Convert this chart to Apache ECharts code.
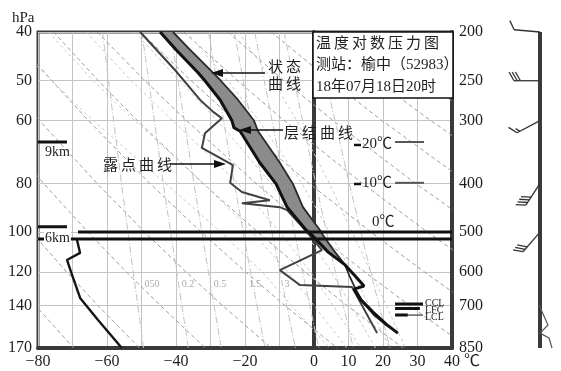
<!DOCTYPE html>
<html>
<head>
<meta charset="utf-8">
<script src="https://cdn.jsdelivr.net/npm/echarts@6/dist/echarts.min.js"></script>
<style>
  html, body { margin: 0; padding: 0; background: #fff; }
  #chart { width: 561px; height: 371px; }
</style>
</head>
<body>
<div id="chart"></div>
<script>
// ---- axes ----
const pressureTicks = [200, 250, 300, 400, 500, 600, 700, 850];   // hPa, right axis
const tempTicks = [-80, -60, -40, -20, 0, 10, 20, 30, 40];         // degC, bottom axis

// ---- sounding curves (T in degC, p in hPa) ----
// stratification curve (层结曲线)
const stratT = [-44.6, -40.0, -33.6, -31.6, -27.2, -23.8, -23.2, -21.4, -15.7, -11.0, -7.8, -2.3, -0.6, 4.1, 9.0, 12.2, 14.5, 11.6, 13.6, 17.1, 20.9, 24.3];
const stratP = [200, 217, 241, 250, 273, 300, 310, 315, 364, 401, 446, 495, 507, 548, 581, 614, 640, 649, 682, 721, 762, 794];
// state curve (状态曲线)
const stateT = [-40.9, -35.9, -29.3, -27.0, -22.0, -17.4, -16.2, -9.9, -6.1, -3.2, 1.7, 2.6, 6.1, 9.0, 10.4, 12.2, 14.2, 17.4, 20.9, 24.3];
const stateP = [200, 217, 241, 250, 273, 300, 315, 364, 401, 446, 495, 507, 548, 581, 614, 652, 689, 731, 765, 794];
// dew point curve (露点曲线)
const dewT = [-50.4, -40.3, -33.0, -29.3, -26.7, -31.6, -32.5, -23.5, -24.3, -20.9, -12.8, -20.9, -9.9, -7.8, -2.0, 2.3, -9.9, -4.1, 11.0, 18.3];
const dewP = [200, 238, 273, 288, 297, 318, 340, 368, 399, 416, 432, 438, 446, 452, 500, 543, 595, 637, 643, 794];
// curve in the lower left
const lowT = [-68.7, -67.8, -71.6, -70.1, -67.8, -62.6, -55.7];
const lowP = [518, 550, 568, 609, 676, 748, 850];
// shaded band between the two temperature curves reaches down to this level
const bandBottomP = 581;

// ---- background lines, T (degC) at the levels below ----
const bgLevels = [200, 250, 300, 400, 500, 600, 700, 850];
const dryAdiabats = [
  [null, null, null, null, null, -89.0, -80.7, -69.7],
  [null, null, null, null, -81.9, -71.7, -62.6, -50.6],
  [null, null, -93.7, -78.4, -65.5, -54.4, -44.5, -31.5],
  [null, -89.4, -79.6, -62.9, -49.1, -37.1, -26.5, -12.4],
  [-88.1, -76.0, -65.4, -47.6, -32.7, -19.8, -8.4, 6.7],
  [-75.5, -62.5, -51.2, -32.2, -16.3, -2.6, 9.6, 25.8],
  [-62.9, -49.0, -37.0, -16.8, 0.1, 14.7, 27.7, 44.9],
  [-50.3, -35.6, -22.9, -1.4, 16.5, 32.0, 45.7, null],
  [-37.7, -22.1, -8.7, 14.0, 32.9, 49.3, null, null],
  [-25.0, -8.7, 5.5, 29.4, 49.3, null, null, null],
  [-12.4, 4.8, 19.7, 44.8, null, null, null, null],
  [0.2, 18.2, 33.8, 60.0, null, null, null, null],
  [12.8, 31.7, 48.0, null, null, null, null, null],
  [25.5, 45.1, null, null, null, null, null, null]
];
const moistAdiabats = [
  [-90, -76, -64, -43, -27, -15, -6.5, 4.5],
  [-77, -64, -52, -32, -18, -7.5, 0, 9.5],
  [-66, -53, -41, -22, -10, -1, 5.5, 13.5],
  [-52, -39, -28, -12.5, -2.5, 5, 10.8, 17.8],
  [-37, -25, -16, -3.5, 4.5, 11, 16, 22],
  [-22, -12, -5, 4.5, 11, 16.5, 21, 26.5]
];
const mixLevels = [200, 400, 600, 850];
const mixingLines = [
  [-61.3, -55.8, -52.4, -49.4],
  [-49.9, -43.7, -39.8, -36.4],
  [-41.6, -34.8, -30.6, -26.9],
  [-30.6, -23.1, -18.4, -14.2],
  [-23.1, -15.0, -9.9, -5.4],
  [-17.2, -8.6, -3.3, 1.4],
  [-8.7, 0.5, 6.2, 11.4],
  [0.3, 10.2, 16.4, 22.0]
];
const mixingLabels = ['050', '0.2', '0.5', '1.5', '3'];

// ---- marked levels: [p hPa, T from, T to] ----
const markKm9 = [331, -80, -71.6];
const markKm6 = [488, -80, -71.6];
const markZero = [500, -68.4, 40];
const markLower = [516, -80, 40];
const markMinus20 = [331, 23.5, 31.9];
const markMinus10 = [399, 23.5, 31.9];
const markCCL = [695, 23.5, 31.6];
const markLFC = [709, 23.5, 30.7];
const markLCL = [731, 23.5, 27.2];
const markLCLTail = [731, 27.2, 31.6];

// ---- wind barbs: direction (deg, from), speed (m/s) ----
const windP = [200, 250, 300, 400, 500];
const windDir = [275, 270, 242, 213, 221];
const windSpeed = [4, 12, 6, 16, 12];
const lowTraceX = [-0.2, 1.6, 0, 1.8, 2.4];
const lowTraceP = [698, 765, 794, 812, 850];

// ---------------------------------------------------------------
const lp = p => Math.log10(p);
const toPts = (ts, ps) => ts.map((t, i) => [t, lp(ps[i])]);
const tableLine = (row, levels) => row.map((t, i) => t === null ? null : [t, lp(levels[i])]).filter(d => d);
const levelLine = m => [[m[1], lp(m[0])], [m[2], lp(m[0])]];

const serif = "'Liberation Serif', 'DejaVu Serif', 'Noto Sans CJK SC', serif";
const cjk = "'Liberation Serif', 'Noto Sans CJK SC', sans-serif";
const ink = '#1e1e1e';
const frame = '#3a3a3a';

const leftEdge = toPts(stratT, stratP).filter((d, i) => stratP[i] <= bandBottomP);
const rightEdge = toPts(stateT, stateP).filter((d, i) => stateP[i] <= bandBottomP);
const bandPolygon = leftEdge.concat(rightEdge.slice().reverse());

function line(data, color, width, type, z, xi, yi) {
  return {
    type: 'line', data, xAxisIndex: xi || 0, yAxisIndex: yi || 0,
    symbol: 'none', silent: true, animation: false, clip: true, z: z,
    lineStyle: { color, width, type: type || 'solid', cap: 'butt' }
  };
}

const series = [];
dryAdiabats.forEach(r => series.push(line(tableLine(r, bgLevels), '#9d9d9d', 1, [4, 3], 1)));
moistAdiabats.forEach(r => series.push(line(tableLine(r, bgLevels), '#c9c9c9', 1, [3, 3], 1)));
mixingLines.forEach(r => series.push(line(tableLine(r, mixLevels), '#c2c2c2', 1, [7, 2, 1, 2], 1)));

series.push({
  type: 'custom', coordinateSystem: 'cartesian2d', xAxisIndex: 0, yAxisIndex: 0,
  silent: true, animation: false, clip: true, z: 3,
  data: [bandPolygon[0]],
  renderItem: (params, api) => ({
    type: 'polygon',
    shape: { points: bandPolygon.map(d => api.coord(d)) },
    style: { fill: '#8b8b8b' }
  })
});

series.push(line(toPts(dewT, dewP), '#404040', 2, 'solid', 4));
series.push(line(toPts(stateT, stateP), '#2a2a2a', 1.8, 'solid', 4));
series.push(line(toPts(stratT, stratP), '#111', 3, 'solid', 5));
series.push(line(toPts(lowT, lowP), '#151515', 2.4, 'solid', 4));

[markKm9, markKm6, markZero, markLower].forEach(m => series.push(line(levelLine(m), '#111', 3, 'solid', 6)));
[markMinus20, markMinus10].forEach(m => series.push(line(levelLine(m), '#555', 2, 'solid', 6)));
[markCCL, markLFC, markLCL].forEach(m => series.push(line(levelLine(m), '#111', 3, 'solid', 6)));
series.push(line(levelLine(markLCLTail), '#111', 1, 'solid', 6));

// wind column
series.push(line([[0, lp(200)], [0, lp(850)]], frame, 4, 'solid', 5, 1, 2));
series.push(line(lowTraceX.map((x, i) => [x, lp(lowTraceP[i])]), '#555', 1.2, 'solid', 5, 1, 2));
series.push({
  type: 'custom', coordinateSystem: 'cartesian2d', xAxisIndex: 1, yAxisIndex: 2,
  silent: true, animation: false, clip: false, z: 6,
  data: windP.map((p, i) => [0, lp(p), windDir[i], windSpeed[i]]),
  renderItem: (params, api) => {
    const base = api.coord([api.value(0), api.value(1)]);
    const a = api.value(2) * Math.PI / 180;
    const ux = Math.sin(a), uy = -Math.cos(a);
    const px = -uy, py = ux;
    const L = 26, step = 3.2, fl = 10;
    const st = { stroke: '#333', lineWidth: 1.3 };
    const kids = [{ type: 'line', shape: { x1: base[0], y1: base[1], x2: base[0] + ux * L, y2: base[1] + uy * L }, style: st }];
    const s = api.value(3);
    const full = Math.floor(s / 4), half = (s % 4) >= 2 ? 1 : 0;
    const fx = px * 0.87 + ux * 0.5, fy = py * 0.87 + uy * 0.5;
    let d = L;
    for (let i = 0; i < full + half; i++) {
      const len = i < full ? fl : fl / 2;
      const sx = base[0] + ux * d, sy = base[1] + uy * d;
      kids.push({ type: 'line', shape: { x1: sx, y1: sy, x2: sx + fx * len, y2: sy + fy * len }, style: st });
      d -= step;
    }
    return { type: 'group', children: kids };
  }
});

const axisFont = { color: ink, fontSize: 16, fontFamily: serif };
const tickVals = pressureTicks.map(lp);

const txt = (x, y, text, size, extra) => ({
  type: 'text', x, y, z: 100,
  style: Object.assign({ text, fill: ink, font: size + 'px ' + cjk, verticalAlign: 'middle', align: 'left' }, extra || {})
});
const dash = (x1, x2, y) => ({ type: 'line', z: 100, shape: { x1, y1: y, x2, y2: y }, style: { stroke: '#111', lineWidth: 2.5 } });

const option = {
  animation: false,
  backgroundColor: '#fff',
  grid: [
    { left: 38, top: 32, width: 414, height: 316, show: true, borderColor: frame, borderWidth: 3, backgroundColor: '#fff' },
    { left: 490, top: 32, width: 70, height: 316, show: false }
  ],
  xAxis: [
    {
      gridIndex: 0, type: 'value', min: -80, max: 40, interval: 10,
      axisLine: { show: true, lineStyle: { color: frame, width: 4 } },
      axisTick: { show: false },
      axisLabel: Object.assign({ customValues: tempTicks, margin: 6, formatter: v => String(v).replace('-', '\u2212') }, axisFont),
      splitLine: { show: true, lineStyle: { color: '#c4c4c4', width: 1 } }
    },
    { gridIndex: 1, type: 'value', min: -10, max: 4, show: false }
  ],
  yAxis: [
    {
      gridIndex: 0, type: 'value', min: lp(200), max: lp(850), inverse: true, position: 'left',
      axisLine: { show: true, lineStyle: { color: frame, width: 4 } },
      axisTick: { show: false, customValues: tickVals },
      axisLabel: Object.assign({ customValues: tickVals, margin: 6, formatter: v => String(Math.round(Math.pow(10, v) / 5)) }, axisFont),
      splitLine: { show: true, lineStyle: { color: '#c4c4c4', width: 1 } }
    },
    {
      gridIndex: 0, type: 'value', min: lp(200), max: lp(850), inverse: true, position: 'right',
      axisLine: { show: true, lineStyle: { color: frame, width: 4 } },
      axisTick: { show: false, customValues: tickVals },
      axisLabel: Object.assign({ customValues: tickVals, margin: 7, formatter: v => String(Math.round(Math.pow(10, v))) }, axisFont),
      splitLine: { show: false }
    },
    { gridIndex: 1, type: 'value', min: lp(200), max: lp(850), inverse: true, show: false }
  ],
  series,
  graphic: [
    txt(12, 18, 'hPa', 15, { font: '15px ' + serif }),
    txt(464, 362, '\u2103', 16),
    // info box
    { type: 'rect', z: 99, shape: { x: 313, y: 32, width: 140, height: 66 }, style: { fill: '#fff', stroke: '#111', lineWidth: 1.5 } },
    txt(316, 44, '温\u2009度\u2009对\u2009数\u2009压\u2009力\u2009图', 15),
    txt(316, 65, '测站：榆中（52983）', 15),
    txt(316, 87, '18年07月18日20时', 15),
    // curve captions with arrows
    txt(268, 68, '状\u2009态', 15),
    txt(268, 85, '曲\u2009线', 15),
    { type: 'line', z: 100, shape: { x1: 265, y1: 73, x2: 220, y2: 73 }, style: { stroke: '#111', lineWidth: 1.5 } },
    { type: 'polygon', z: 100, shape: { points: [[211, 73], [223, 69], [223, 77]] }, style: { fill: '#111' } },
    txt(284, 134, '层\u2009结\u2009曲\u2009线', 15),
    { type: 'line', z: 100, shape: { x1: 283, y1: 130, x2: 248, y2: 130 }, style: { stroke: '#111', lineWidth: 1.5 } },
    { type: 'polygon', z: 100, shape: { points: [[239, 130], [251, 126], [251, 134]] }, style: { fill: '#111' } },
    txt(103, 166, '露\u2009点\u2009曲\u2009线', 15),
    { type: 'line', z: 100, shape: { x1: 170, y1: 164, x2: 216, y2: 164 }, style: { stroke: '#111', lineWidth: 1.5 } },
    { type: 'polygon', z: 100, shape: { points: [[226, 164], [214, 160], [214, 168]] }, style: { fill: '#111' } },
    // level captions
    txt(45, 152, '9km', 14, { font: '14px ' + serif }),
    txt(44, 238, '6km', 14, { font: '14px ' + serif, backgroundColor: '#fff', padding: [0, 1, 0, 1] }),
    txt(372, 222, '0\u2103', 15),
    dash(354, 361, 145),
    txt(362, 144, '20\u2103', 15),
    dash(354, 361, 184),
    txt(362, 183, '10\u2103', 15),
    txt(425, 303.5, 'CCL', 10, { font: '10px ' + serif }),
    txt(425, 310, 'LFC', 10, { font: '10px ' + serif }),
    txt(425, 317, 'LCL', 10, { font: '10px ' + serif }),
    // mixing ratio captions
    ...mixingLabels.map((s, i) => txt([152, 188, 220, 255, 287][i], 284, s, 10, { font: '10px ' + serif, fill: '#aaa', align: 'center' }))
  ]
};

const chart = echarts.init(document.getElementById('chart'), null, { renderer: 'canvas', width: 561, height: 371 });
chart.setOption(option);
</script>
</body>
</html>
